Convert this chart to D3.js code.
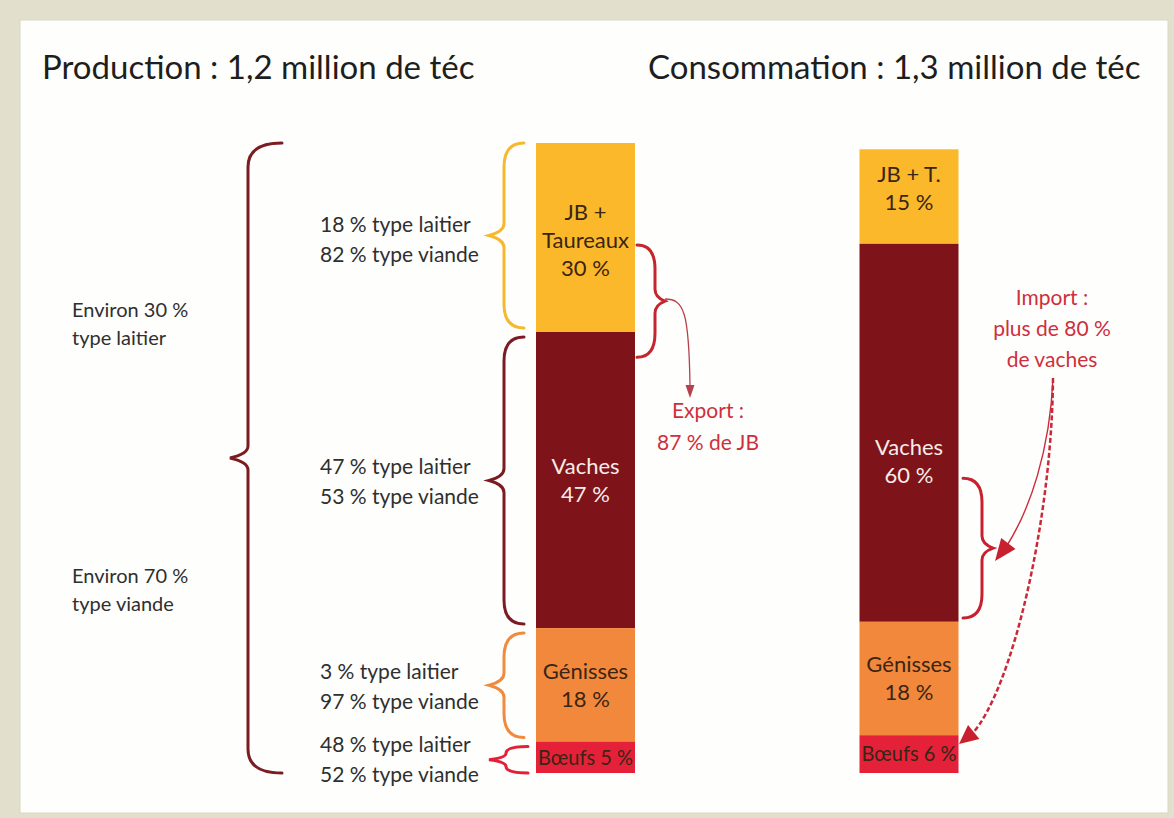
<!DOCTYPE html>
<html lang="fr">
<head>
<meta charset="utf-8">
<script src="https://cdn.jsdelivr.net/npm/d3@7"></script>
<style>
  body { margin: 0; background: #e2e0cc; }
  svg { display: block; font-family: Lato, "Open Sans", sans-serif; }
</style>
</head>
<body>
<div id="chart"></div>
<script>
// data
const categories = ["JB + Taureaux", "Vaches", "Génisses", "Bœufs"];
const bars = ["Production", "Consommation"];
const production = [30, 47, 18, 5];
const consommation = [15, 60, 18, 6];
const titles = ["Production : 1,2 million de téc", "Consommation : 1,3 million de téc"];
const prodLabels = [["JB +", "Taureaux", "30 %"], ["Vaches", "47 %"], ["Génisses", "18 %"], ["Bœufs 5 %"]];
const consLabels = [["JB + T.", "15 %"], ["Vaches", "60 %"], ["Génisses", "18 %"], ["Bœufs 6 %"]];
const typeLabels = [
  ["18 % type laitier", "82 % type viande"],
  ["47 % type laitier", "53 % type viande"],
  ["3 % type laitier", "97 % type viande"],
  ["48 % type laitier", "52 % type viande"]
];
const overallLabels = [["Environ 30 %", "type laitier"], ["Environ 70 %", "type viande"]];
const exportLabel = ["Export :", "87 % de JB"];
const importLabel = ["Import :", "plus de 80 %", "de vaches"];
const colors = ["#fbb82b", "#7e1419", "#f2883b", "#e5213a"];
const braceColors = ["#f6b82f", "#7b1b22", "#f08a3c", "#e3203a"];

const width = 1174, height = 818;
const barWidth = 99;

const svg = d3.select("#chart")
  .append("svg")
  .attr("width", width)
  .attr("height", height);

// frame
svg.append("rect")
  .attr("x", 20).attr("y", 20)
  .attr("width", 1148).attr("height", 793)
  .attr("fill", "#fefefc")
  .attr("stroke", "#d9d8c6")
  .attr("stroke-width", 1);

const x = d3.scalePoint().domain(bars).range([585.5, 909]);
const y = d3.scaleLinear().domain([0, 100]).range([773, 143]);

// stack from the bottom, first category on top
function stackUp(values) {
  return values.map((v, i) => {
    const lo = d3.sum(values.slice(i + 1));
    return { cat: categories[i], value: v, lo: lo, hi: lo + v, i: i };
  });
}

const stacks = [stackUp(production), stackUp(consommation)];
const labelSets = [prodLabels, consLabels];

// titles
svg.selectAll(".title")
  .data(titles)
  .enter()
  .append("text")
  .attr("class", "title")
  .attr("x", (d, i) => i === 0 ? 42 : 648)
  .attr("y", 79)
  .attr("font-size", 33)
  .attr("fill", "#1e1e1e")
  .text(d => d);

// bars
bars.forEach((b, bi) => {
  const g = svg.append("g").attr("class", "bar");
  g.selectAll("rect")
    .data(stacks[bi])
    .enter()
    .append("rect")
    .attr("x", x(b) - barWidth / 2)
    .attr("y", d => y(d.hi))
    .attr("width", barWidth)
    .attr("height", d => y(d.lo) - y(d.hi))
    .attr("fill", d => colors[d.i]);

  stacks[bi].forEach(d => {
    const lines = labelSets[bi][d.i];
    let cy = (y(d.hi) + y(d.lo)) / 2;
    if (bi === 1 && d.i === 1) cy += 28;
    if (bi === 1 && d.i === 0) cy -= 8;
    if (d.i === 0 && bi === 0) cy += 3;
    const step = 28;
    const last = d.i === 3;
    const t = g.append("text")
      .attr("x", x(b))
      .attr("text-anchor", "middle")
      .attr("font-size", last ? 21 : 22)
      .attr("fill", d.i === 1 ? "#f6ecea" : "#3a2515");
    t.selectAll("tspan")
      .data(lines)
      .enter()
      .append("tspan")
      .attr("x", x(b))
      .attr("y", (l, k) => cy + (k - (lines.length - 1) / 2) * step)
      .attr("dy", "0.35em")
      .attr("textLength", last ? 95 : null)
      .attr("lengthAdjust", last ? "spacingAndGlyphs" : null)
      .text(l => l);
  });
});

// curly braces
function bracePath(xEnd, xSpine, xTip, y0, y1, ym) {
  const r = Math.min(24, (ym - y0) / 2, (y1 - ym) / 2);
  const r2 = Math.min(12, r);
  const p = d3.path();
  p.moveTo(xEnd, y0);
  p.quadraticCurveTo(xSpine, y0, xSpine, y0 + r);
  p.lineTo(xSpine, ym - r2);
  p.quadraticCurveTo(xSpine, ym - r2 / 3, xTip, ym);
  p.quadraticCurveTo(xSpine, ym + r2 / 3, xSpine, ym + r2);
  p.lineTo(xSpine, y1 - r);
  p.quadraticCurveTo(xSpine, y1, xEnd, y1);
  return p.toString();
}

function brace(xEnd, xSpine, xTip, y0, y1, color, w) {
  svg.append("path")
    .attr("d", bracePath(xEnd, xSpine, xTip, y0, y1, (y0 + y1) / 2))
    .attr("fill", "none")
    .attr("stroke", color)
    .attr("stroke-width", w)
    .attr("stroke-linecap", "round");
}

// big brace over the whole production
brace(282, 248, 230, y(100), y(0), "#7b1b22", 3);

// one brace per production segment + its type split
stacks[0].forEach(d => {
  const y0 = y(d.hi) + (d.i === 0 ? 0 : 5);
  const y1 = y(d.lo) - (d.i === 3 ? 0 : 4);
  const small = d.i === 3;
  brace(small ? 528 : 524, small ? 506 : 504, 489, y0, y1, braceColors[d.i], 3);

  const cy = (y(d.hi) + y(d.lo)) / 2 + 2;
  svg.append("text")
    .attr("font-size", 21)
    .attr("fill", "#2f2f2f")
    .selectAll("tspan")
    .data(typeLabels[d.i])
    .enter()
    .append("tspan")
    .attr("x", 320)
    .attr("y", (l, k) => cy + (k - 0.5) * 30)
    .attr("dy", "0.35em")
    .text(l => l);
});

// overall split
overallLabels.forEach((lines, i) => {
  svg.append("text")
    .attr("font-size", 20)
    .attr("fill", "#2f2f2f")
    .selectAll("tspan")
    .data(lines)
    .enter()
    .append("tspan")
    .attr("x", 72)
    .attr("y", (l, k) => (i === 0 ? 310 : 576) + k * 28)
    .attr("dy", "0.35em")
    .text(l => l);
});

// export / import braces
brace(637, 655, 665, y(83.8), y(66), "#c3262f", 3);
brace(963, 982, 993, y(46.8), y(24.6), "#c8202e", 3);

function arrowhead(tip, from, len, half, color) {
  const dx = tip[0] - from[0], dy = tip[1] - from[1];
  const n = Math.hypot(dx, dy);
  const ux = dx / n, uy = dy / n;
  const bx = tip[0] - ux * len, by = tip[1] - uy * len;
  svg.append("path")
    .attr("d", `M${tip[0]},${tip[1]}L${bx - uy * half},${by + ux * half}L${bx + uy * half},${by - ux * half}Z`)
    .attr("fill", color);
}

// export arrow
svg.append("path")
  .attr("d", "M665,299C684,299 689,312 690,386")
  .attr("fill", "none")
  .attr("stroke", "#b8404c")
  .attr("stroke-width", 1.3);
arrowhead([690, 398], [690, 386], 13, 4.5, "#b8404c");

// import arrows
svg.append("path")
  .attr("d", "M1053,378C1050,450 1030,510 1006,547")
  .attr("fill", "none")
  .attr("stroke", "#cc2b3b")
  .attr("stroke-width", 1.4);
arrowhead([995, 561], [1008, 544], 22, 9, "#c8202e");

svg.append("path")
  .attr("d", "M1053,378C1052,520 1012,690 972,734")
  .attr("fill", "none")
  .attr("stroke", "#c8283a")
  .attr("stroke-width", 2.5)
  .attr("stroke-dasharray", "5,2.5");
arrowhead([959, 744], [975, 731], 19, 9, "#c8202e");

function redText(lines, cx, y0, step) {
  svg.append("text")
    .attr("font-size", 21)
    .attr("fill", "#cf2f3c")
    .attr("text-anchor", "middle")
    .selectAll("tspan")
    .data(lines)
    .enter()
    .append("tspan")
    .attr("x", cx)
    .attr("y", (l, k) => y0 + k * step)
    .text(l => l);
}
redText(exportLabel, 708, 418, 32);
redText(importLabel, 1052, 305, 31);
</script>
</body>
</html>
